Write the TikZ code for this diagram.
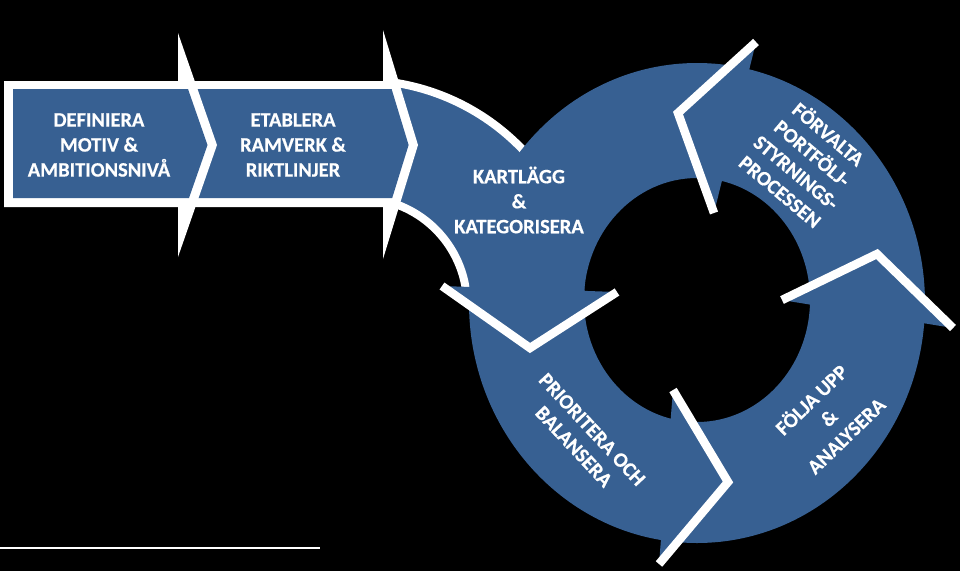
\documentclass[tikz,border=0pt]{standalone}
\usepackage{fontspec}
\setmainfont{Carlito}[BoldFeatures={FakeBold=0.5}]
\definecolor{segblue}{HTML}{376092}
\tikzset{
  lbl/.style={text=white, font=\bfseries\fontsize{20.5}{25}\selectfont, align=center, inner sep=0pt},
  chevline/.style={white, line width=8.5pt, line join=miter},
  rimline/.style={white, line width=8pt},
  segfill/.style={fill=segblue},
}
\begin{document}
\begin{tikzpicture}[x=1pt,y=1pt,yscale=-1]
\fill[black] (0,0) rectangle (960,571);
\useasboundingbox (0,0) rectangle (960,571);

% entry band (curved arrow into the ring)
\coordinate (bc) at (360,305);
\fill[segblue] (bc) ++(-84:225) arc[start angle=-84, end angle=0, radius=225]
  -- ++(-118,0) arc[start angle=0, end angle=-84, radius=107] -- cycle;
\draw[rimline] (bc) ++(-83:225) arc[start angle=-83, end angle=-40, radius=225];
\draw[rimline] (bc) ++(-84:107) arc[start angle=-84, end angle=0, radius=107];

% ring
\fill[segblue, even odd rule] (697,303) ellipse[x radius=228, y radius=240]
  (697,300) ellipse[x radius=113, y radius=122];

% arrowheads
\coordinate (a1) at (756,42);  \coordinate (a2) at (678,113); \coordinate (a3) at (714,213);
\coordinate (b1) at (442,286); \coordinate (b2) at (530,348); \coordinate (b3) at (617,292);
\coordinate (c1) at (673,390); \coordinate (c2) at (728,482); \coordinate (c3) at (659,564);
\coordinate (d1) at (782,300); \coordinate (d2) at (877,254); \coordinate (d3) at (953,328);
\fill[segfill] (a1) -- (a2) -- (a3) -- cycle;
\fill[segfill] (b1) -- (b2) -- (b3) -- cycle;
\fill[segfill] (c1) -- (c2) -- (c3) -- cycle;
\fill[segfill] (d1) -- (d2) -- (d3) -- cycle;
\draw[chevline] (a1) -- (a2) -- (a3);
\draw[chevline] (b1) -- (b2) -- (b3);
\draw[chevline] (c1) -- (c2) -- (c3);
\draw[chevline] (d1) -- (d2) -- (d3);

% second block arrow
\fill[white] (180,81) -- (383,81) -- (383,30) -- (418,145) -- (383,259) -- (383,207) -- (180,207) -- cycle;
\fill[segblue] (190,89) -- (391.6,89) -- (408.6,145) -- (392.2,198) -- (190,198) -- cycle;

% first block arrow
\fill[white] (4,81) -- (178,81) -- (178,33) -- (217,145) -- (178,257) -- (178,207) -- (4,207) -- cycle;
\fill[segblue] (13,89) -- (188,89) -- (207.5,145) -- (189,198) -- (13,198) -- cycle;

% labels
\node[lbl] (t1) at (99,145) {DEFINIERA\\MOTIV \&\\AMBITIONSNIVÅ};
\node[lbl] (t2) at (293,145) {ETABLERA\\RAMVERK \&\\RIKTLINJER};
\node[lbl] (t3) at (519,200) {KARTLÄGG\\\&\\KATEGORISERA};
\node[lbl, rotate=-40] (t4) at (805,162) {FÖRVALTA\\PORTFÖLJ-\\STYRNINGS-\\PROCESSEN};
\node[lbl, rotate=-47] (t5) at (583,438) {PRIORITERA OCH\\BALANSERA};
\node[lbl, rotate=44] (t6) at (828,417) {FÖLJA UPP\\\&\\ANALYSERA};

% bottom rule
\coordinate (r1) at (0,547.5);
\coordinate (r2) at (320,547.5);
\draw[white, line width=2pt] (r1) -- (r2);
\end{tikzpicture}
\end{document}
